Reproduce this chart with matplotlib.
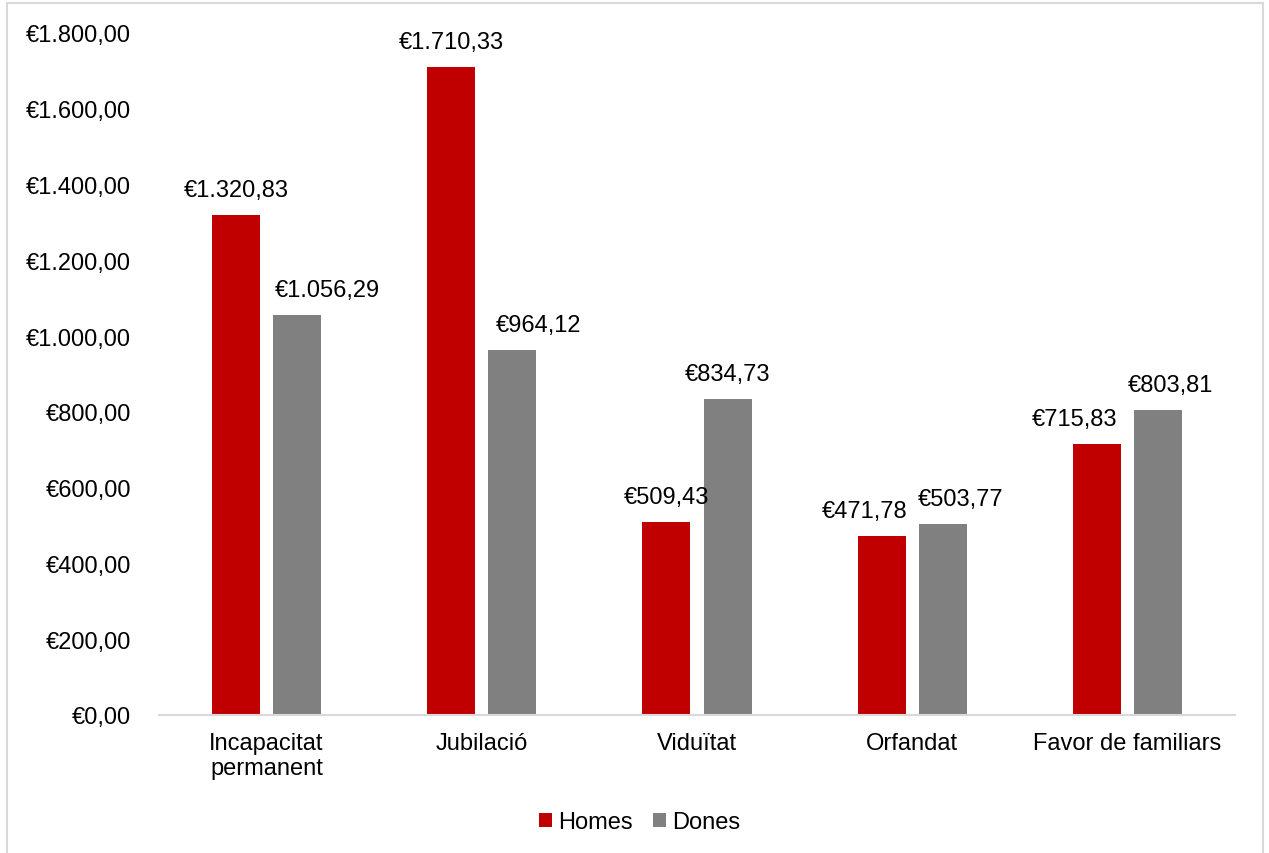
import matplotlib.pyplot as plt
from matplotlib.patches import Rectangle
from matplotlib.ticker import FuncFormatter
import numpy as np

plt.rcParams['font.family'] = ['Liberation Sans', 'DejaVu Sans']

# dades
categories = ['Incapacitat\npermanent', 'Jubilació', 'Viduïtat', 'Orfandat', 'Favor de familiars']
homes = [1320.83, 1710.33, 509.43, 471.78, 715.83]
dones = [1056.29, 964.12, 834.73, 503.77, 803.81]

# petits desplaçaments horitzontals de les etiquetes (punts), com a l'original
despl_homes = [0, 0, 0, -12, -16]
despl_dones = [22, 19, 0, 13, 9]


def euro(v, pos=None):
    s = f'{v:,.2f}'
    s = s.replace(',', 'X').replace('.', ',').replace('X', '.')
    return '€' + s


fig = plt.figure(figsize=(12.69, 8.54), dpi=100)
ax = fig.add_axes([0.1253, 0.1616, 0.8479, 0.7986])

x = np.arange(len(categories))
amplada = 0.223
ax.bar(x - 0.142, homes, amplada, color='#C00000', label='Homes')
ax.bar(x + 0.142, dones, amplada, color='#808080', label='Dones')

for i in range(len(categories)):
    ax.annotate(euro(homes[i]), (x[i] - 0.142, homes[i]), xytext=(despl_homes[i], 18),
                textcoords='offset points', ha='center', va='center', fontsize=17)
    ax.annotate(euro(dones[i]), (x[i] + 0.142, dones[i]), xytext=(despl_dones[i], 18),
                textcoords='offset points', ha='center', va='center', fontsize=17)

ax.set_xlim(-0.5, len(categories) - 0.5)
ax.set_ylim(0, 1800)
ax.set_yticks(np.arange(0, 1801, 200))
ax.yaxis.set_major_formatter(FuncFormatter(euro))
ax.set_xticks(x)
ax.set_xticklabels(categories, fontsize=17)
ax.tick_params(axis='y', length=0, pad=20, labelsize=17)
ax.tick_params(axis='x', length=0, pad=12)

for s in ['top', 'right', 'left']:
    ax.spines[s].set_visible(False)
ax.spines['bottom'].set_color('#D9D9D9')
ax.spines['bottom'].set_linewidth(1.5)

fig.legend(loc='center', bbox_to_anchor=(0.504, 0.036), ncol=2, frameon=False,
           fontsize=17, handlelength=0.55, handleheight=0.55, handletextpad=0.25,
           columnspacing=0.85)

fig.patches.append(Rectangle((7 / 1269, -0.01), 1256 / 1269, 1.01 - 4 / 854,
                             transform=fig.transFigure, fill=False,
                             edgecolor='#D9D9D9', linewidth=1.5))

fig.savefig('out.png', dpi=100)
